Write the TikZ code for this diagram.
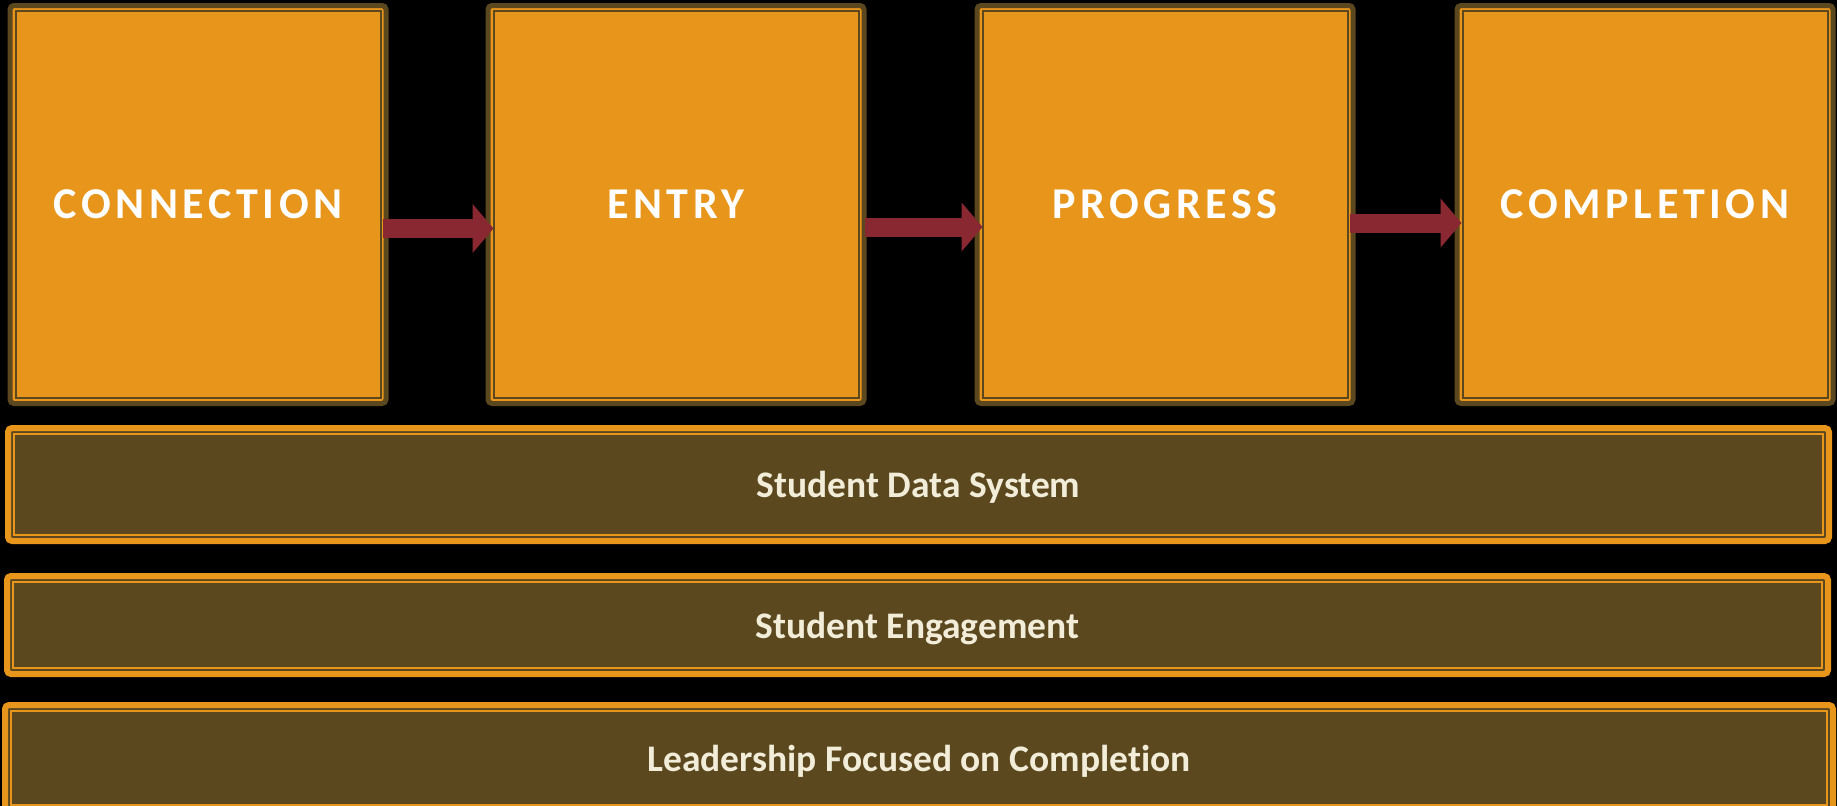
\documentclass[tikz,border=0pt]{standalone}
\usepackage{fontspec}
\setmainfont{Carlito}[Ligatures=NoCommon]
\newfontfamily\capsfont{Carlito}[LetterSpace=10.5,Ligatures=NoCommon]
\usetikzlibrary{arrows.meta}
\definecolor{org}{HTML}{E8951C}
\definecolor{dk}{HTML}{5C481E}
\definecolor{arr}{HTML}{8A2832}
\definecolor{cream}{HTML}{F2EDD9}
\tikzset{
  stagebox/.style={draw=dk, line width=5pt, fill=org, rounded corners=4pt,
    inner sep=0pt, outer sep=0pt, minimum width=376pt, minimum height=398pt,
    text=white, font=\capsfont\bfseries\fontsize{44}{50}\selectfont},
  innerdk/.style={draw=dk, line width=2pt},
  barbox/.style={draw=org, line width=6pt, fill=dk, rounded corners=4pt,
    inner sep=0pt, outer sep=0pt, text depth=0pt,
    text=cream, font=\bfseries\fontsize{37.5}{42}\selectfont},
  innerorg/.style={draw=org, line width=2pt},
  blockarr/.style={draw=arr, line width=19pt, -{Triangle[length=21pt,width=48pt]}}
}
\begin{document}
\begin{tikzpicture}[x=1pt,y=-1pt]
\useasboundingbox (0,0) rectangle (1837,806);
\fill[black] (0,0) rectangle (1837,806);
\begin{scope}
\clip (0,0) rectangle (1837,806);
% stage boxes
\node[stagebox] (conn) at (198,204.5) {\raisebox{-2.5pt}{CONNECTION}};
\node[stagebox] (entry) at (676,204.5) {\raisebox{1pt}{ENTRY}};
\node[stagebox] (prog) at (1165,204.5) {\raisebox{-2.5pt}{PROGRESS}};
\node[stagebox] (compl) at (1645,204.5) {\raisebox{-2.5pt}{COMPLETION}};
\foreach \n in {conn,entry,prog,compl}
  \draw[innerdk] ([shift={(5.5,5.5)}]\n.north west) rectangle ([shift={(-5.5,-5.5)}]\n.south east);
% bars
\node[barbox, minimum width=1821pt, minimum height=113pt] (data) at (918.5,484.5) {Student Data System};
\node[barbox, minimum width=1821pt, minimum height=98pt] (eng) at (917.5,625) {Student Engagement};
\node[barbox, minimum width=1828pt, minimum height=106pt] (lead) at (919,758) {Leadership Focused on Completion};
\foreach \n in {data,eng,lead}
  \draw[innerorg] ([shift={(6,6)}]\n.north west) rectangle ([shift={(-6,-6)}]\n.south east);
% arrows
\draw[blockarr] ([shift={(-3,24)}]conn.east) -- ([shift={(5.5,24)}]entry.west);
\draw[blockarr] ([shift={(0.5,22.5)}]entry.east) -- ([shift={(5.5,22.5)}]prog.west);
\draw[blockarr] ([shift={(-3.5,18.5)}]prog.east) -- ([shift={(4.5,18.5)}]compl.west);
\end{scope}
\end{tikzpicture}
\end{document}
